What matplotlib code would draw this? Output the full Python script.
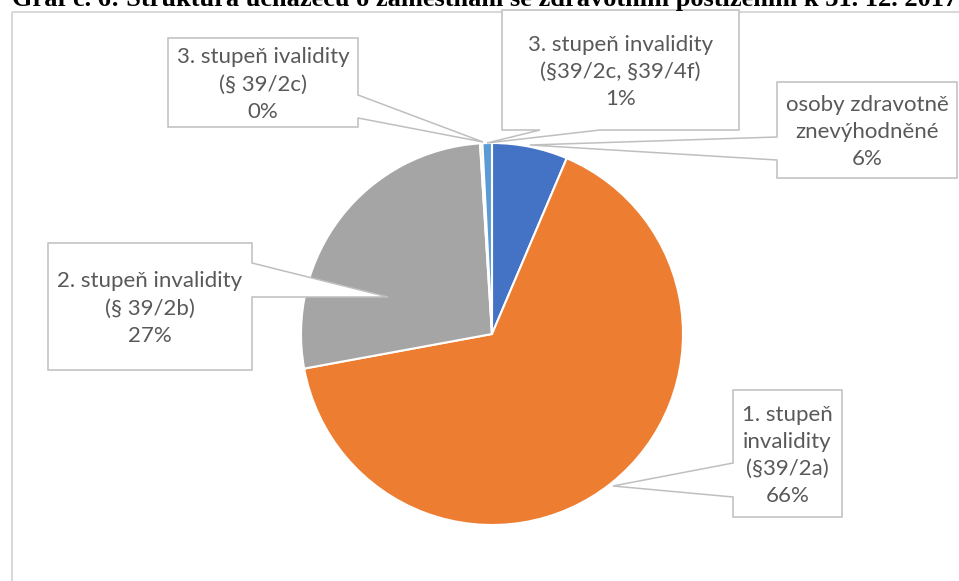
import matplotlib
matplotlib.use('Agg')
import matplotlib.pyplot as plt
from matplotlib.patches import Polygon, Rectangle

# data
kategorie = ['osoby zdravotně\nznevýhodněné',
             '1. stupeň\ninvalidity\n(§39/2a)',
             '2. stupeň invalidity\n(§ 39/2b)',
             '3. stupeň ivalidity\n(§ 39/2c)',
             '3. stupeň invalidity\n(§39/2c, §39/4f)']
podil = [6.4, 65.7, 26.9, 0.2, 0.8]
barvy = ['#4472C4', '#ED7D31', '#A5A5A5', '#FFC000', '#5B9BD5']

titulek = 'Graf č. 6: Struktura uchazečů o zaměstnání se zdravotním postižením k 31. 12. 2017'

# bubliny s popisky v pixelech (x od leva, y shora)
# box = (x0, y0, x1, y1), strana s vybezkem, vybezek = (zacatek, spicka, konec)
boxy = [(777, 82, 957, 178), (733, 390, 842, 517), (48, 243, 252, 370),
        (168, 38, 358, 127), (502, 10, 739, 130)]
strany = ['left', 'left', 'right', 'right', 'bottom']
vybezky = [((777, 160), (530, 145), (777, 137)),
           ((733, 497), (613, 486), (733, 463)),
           ((252, 263), (388, 297), (252, 297)),
           ((358, 95), (483, 142), (358, 118)),
           ((600, 130), (487, 143), (540, 130))]


def obrys_bubliny(box, strana, vyb):
    x0, y0, x1, y1 = box
    # body po smeru hodinovych rucicek od leveho horniho rohu
    if strana == 'right':
        return [(x0, y0), (x1, y0), *vyb, (x1, y1), (x0, y1)]
    if strana == 'bottom':
        return [(x0, y0), (x1, y0), (x1, y1), *vyb, (x0, y1)]
    return [(x0, y0), (x1, y0), (x1, y1), (x0, y1), *vyb]


W, H = 959, 581
fig = plt.figure(figsize=(W / 100, H / 100), dpi=100)
ax = fig.add_axes([0, 0, 1, 1])

# kolac (osa y je otocena, proto counterclock=True)
ax.pie(podil, colors=barvy, center=(492, 334), radius=191,
       startangle=-90, counterclock=True,
       wedgeprops=dict(edgecolor='white', linewidth=1.5))
ax.set_xlim(0, W)
ax.set_ylim(H, 0)
ax.set_aspect('equal')
ax.axis('off')

# ramecek grafu
ax.add_patch(Rectangle((12, 12), 2000, 2000, fill=False, ec='#D9D9D9', lw=1.5, zorder=1))

celkem = sum(podil)
for kat, hodnota, box, strana, vyb in zip(kategorie, podil, boxy, strany, vybezky):
    ax.add_patch(Polygon(obrys_bubliny(box, strana, vyb), closed=True,
                         fc='white', ec='#BFBFBF', lw=1.1, zorder=3))
    cx = (box[0] + box[2]) / 2
    cy = (box[1] + box[3]) / 2 + 2
    txt = kat + '\n' + f'{round(hodnota * 100 / celkem):.0f}%'
    ax.text(cx, cy, txt, ha='center', va='center', multialignment='center',
            fontsize=16, family=['Lato', 'DejaVu Sans'], color='#595959',
            linespacing=1.45, zorder=4)

fig.text(12 / W, 1 - 6 / H, titulek, ha='left', va='baseline',
         fontsize=19, fontweight='bold', family=['Liberation Serif', 'DejaVu Serif'])

fig.savefig('out.png', dpi=100)
